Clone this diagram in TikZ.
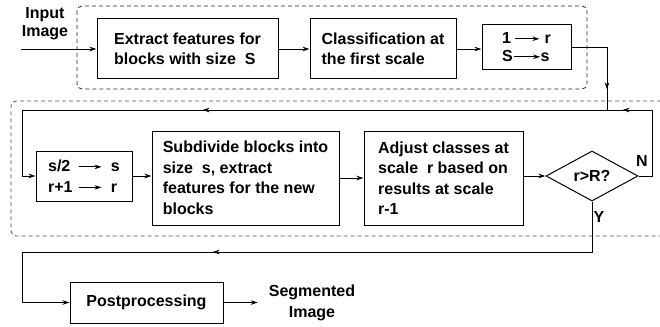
\documentclass[tikz,border=0pt]{standalone}
\usepackage{fontspec}
\setmainfont{Liberation Sans}
\usetikzlibrary{arrows.meta,shapes.geometric,decorations.markings}
\newcommand{\rarr}[1]{\tikz[baseline=-0.55ex]\draw[line width=0.8pt,-{Stealth[length=7pt,width=4.5pt]}] (0pt,0pt)--(#1,0pt);}
\begin{document}
\begin{tikzpicture}[x=1pt,y=-1pt,
  font=\fontsize{16}{20.5}\selectfont\bfseries,
  >={Stealth[length=7pt,width=4.5pt]},
  box/.style={draw, line width=1pt, inner sep=0pt, align=left},
  conn/.style={line width=0.8pt},
  midarrow/.style={postaction={decorate,decoration={markings,mark=at position #1 with {\arrow{Stealth[length=7pt,width=4.5pt]}}}}},
  dashbox/.style={line width=0.8pt, black!85, dash pattern=on 4pt off 3pt, rounded corners=5pt},
  dashbox2/.style={line width=0.8pt, black!70, dash pattern=on 4pt off 3pt, rounded corners=5pt}]
\useasboundingbox (0,0) rectangle (660,326);

% dashed frames
\draw[dashbox] (77,6) rectangle (587,89);
\draw[dashbox2] (668,101) -- (11,101) -- (11,236) -- (668,236);

% nodes
\node[align=center, inner sep=0pt] (inl) at (45,24) {Input\\[-2.5pt]Image};
\coordinate (in) at (21,49);
\node[box, minimum width=181pt, minimum height=60pt] (b1) at (187.5,49) {Extract features for\\blocks with size\ \ S};
\node[box, minimum width=146pt, minimum height=60pt] (b2) at (383,49) {Classification at\\the first scale};
\node[box, minimum width=89pt, minimum height=45pt] (b3) at (526.5,47) {1\hspace{4pt}\rarr{24pt}\hspace{5pt}r\\[-2.5pt]S\hspace{1pt}\rarr{26pt}s};
\node[box, minimum width=96pt, minimum height=50pt] (b4) at (84,176) {\makebox[30pt][l]{s/2}\rarr{23pt}\hspace{9pt}s\\\makebox[30pt][l]{r+1}\rarr{23pt}\hspace{9pt}r};
\node[box, minimum width=187pt, minimum height=94pt] (b5) at (245.5,178) {Subdivide blocks into\\size\ \ s, extract\\features for the new\\blocks};
\node[box, minimum width=159pt, minimum height=94pt] (b6) at (443.5,178) {Adjust classes at\\scale\ \ r based on\\results at scale\\r-1};
\node[draw, diamond, line width=1pt, minimum width=92pt, minimum height=50pt, aspect=1.84, inner sep=0pt] (dia) at (592,176) {r>R?};
\node[inner sep=0pt] (nlab) at (642,161) {N};
\node[inner sep=0pt] (ylab) at (599,217) {Y};
\node[box, align=center, minimum width=153pt, minimum height=41pt] (pp) at (146.5,302.5) {Postprocessing};
\node[align=center, inner sep=0pt] (seg) at (312,303) {Segmented\\Image};

% connectors
\draw[conn,->] (in) -- (b1.west);
\draw[conn,->] (b1.east) -- (b2.west);
\draw[conn,->] (b2.east) -- (b2.east -| b3.west);
\coordinate (j1) at (607,110);
\draw[conn, midarrow=78pt] (b3.east) -| (j1);
\coordinate (nr) at (652,110);
\coordinate (nl) at (22,110);
\draw[conn,->, midarrow=109pt, midarrow=529pt] (dia.east) -| (nr) -- (nl) |- (b4.west);
\draw[conn,->] (b4.east) -- (b4.east -| b5.west);
\draw[conn,->] (b5.east) -- (b6.west);
\draw[conn,->] (b6.east |- dia.west) -- (dia.west);
\coordinate (yr) at (592,252);
\coordinate (yl) at (22,252);
\draw[conn,->, midarrow=430pt] (dia.south) -- (yr) -- (yl) |- (pp.west);
\draw[conn,->] (pp.east) -- ([xshift=-11pt]seg.west |- pp.east);
\end{tikzpicture}
\end{document}
